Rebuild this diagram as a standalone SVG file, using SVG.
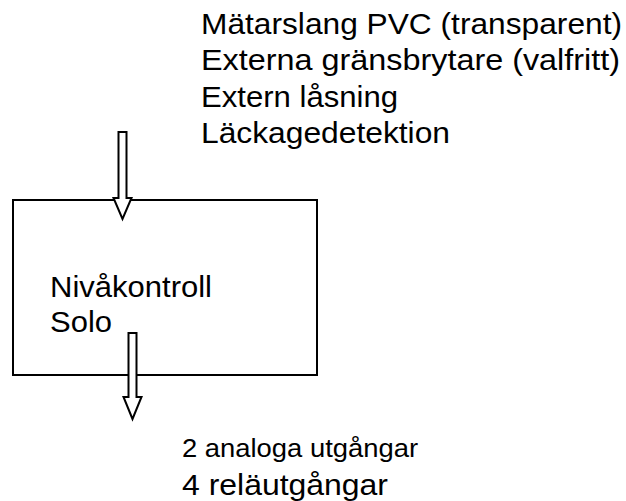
<svg xmlns="http://www.w3.org/2000/svg" width="626" height="501" viewBox="0 0 626 501">
<style>
text{font-family:"Liberation Sans",Arial,sans-serif;fill:#000}
.t{font-size:29px}
.s{font-size:25px}
.ln{fill:#fff;stroke:#000;stroke-width:2}
</style>
<rect width="626" height="501" fill="#fff"/>
<g id="box">
<rect class="ln" x="13" y="200" width="304" height="175"/>
<text class="t" x="50" y="297" textLength="162" lengthAdjust="spacingAndGlyphs">Nivåkontroll</text>
<text class="t" x="50" y="332" textLength="62" lengthAdjust="spacingAndGlyphs">Solo</text>
</g>
<g id="inputs">
<text class="t" x="201" y="33.5" textLength="421" lengthAdjust="spacingAndGlyphs">Mätarslang PVC (transparent)</text>
<text class="t" x="201" y="70" textLength="419" lengthAdjust="spacingAndGlyphs">Externa gränsbrytare (valfritt)</text>
<text class="t" x="201" y="106.5" textLength="197" lengthAdjust="spacingAndGlyphs">Extern låsning</text>
<text class="t" x="201" y="143" textLength="249" lengthAdjust="spacingAndGlyphs">Läckagedetektion</text>
</g>
<g id="outputs">
<text class="s" x="182" y="457" textLength="236" lengthAdjust="spacingAndGlyphs">2 analoga utgångar</text>
<text class="t" x="182" y="495" textLength="206" lengthAdjust="spacingAndGlyphs">4 reläutgångar</text>
</g>
<g id="connectors">
<path class="ln" d="M118.5,132 H126.5 V198 H131.5 L122.5,219 L113.5,198 H118.5 Z"/>
<path class="ln" d="M128.5,333 H136.5 V397 H141.5 L132.5,419 L123.5,397 H128.5 Z"/>
</g>
</svg>
